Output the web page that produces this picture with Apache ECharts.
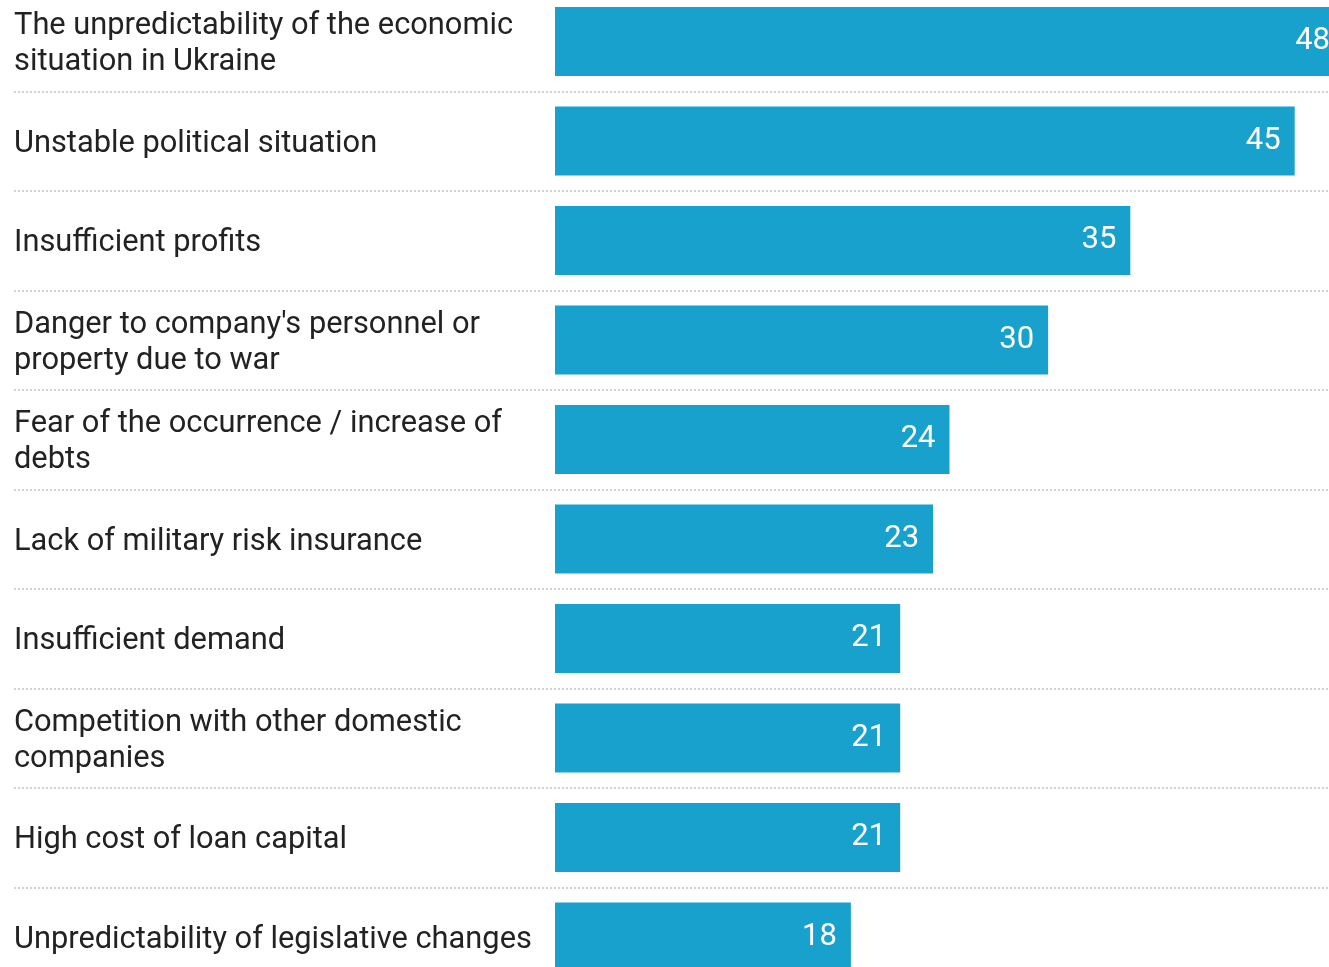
<!DOCTYPE html>
<html>
<head>
<meta charset="utf-8">
<script src="https://cdn.jsdelivr.net/npm/echarts@6/dist/echarts.min.js"></script>
<style>
  html, body { margin: 0; padding: 0; background: #ffffff; }
  #chart { width: 1329px; height: 967px; }
</style>
</head>
<body>
<div id="chart"></div>
<script>
// Obstacles to doing business, share of respondents (%)
const categories = [
  "The unpredictability of the economic situation in Ukraine",
  "Unstable political situation",
  "Insufficient profits",
  "Danger to company's personnel or property due to war",
  "Fear of the occurrence / increase of debts",
  "Lack of military risk insurance",
  "Insufficient demand",
  "Competition with other domestic companies",
  "High cost of loan capital",
  "Unpredictability of legislative changes"
];
const values = [48, 45, 35, 30, 24, 23, 21, 21, 21, 18];

const BAR_COLOR = '#19a1cd';
const TEXT_COLOR = '#222222';
const FONT = 'Roboto';

const chart = echarts.init(document.getElementById('chart'), null, { renderer: 'canvas' });

chart.setOption({
  backgroundColor: '#ffffff',
  animation: false,
  grid: [
    // full-width grid carrying the dotted row separators
    { left: 14, right: 0, top: -8.25, bottom: -19.75, containLabel: false, outerBoundsMode: 'none' },
    // bar area (extends past the right edge so the longest bar is cut)
    { left: 555, right: -15, top: -8.25, bottom: -19.75, containLabel: false, outerBoundsMode: 'none' },
    // category text column, sitting a few pixels lower than the bars
    { left: 555, right: -15, top: -5.25, bottom: -22.75, containLabel: false, outerBoundsMode: 'none' }
  ],
  xAxis: [
    { gridIndex: 0, type: 'value', min: 0, max: 1, show: false },
    { gridIndex: 1, type: 'value', min: 0, max: 48, show: false },
    { gridIndex: 2, type: 'value', min: 0, max: 48, show: false }
  ],
  yAxis: [
    {
      gridIndex: 0,
      type: 'category',
      inverse: true,
      data: categories,
      axisLine: { show: false },
      axisTick: { show: false },
      axisLabel: { show: false },
      splitLine: {
        show: true,
        lineStyle: { color: '#c4c4c4', width: 1.5, type: [2, 2] }
      }
    },
    {
      gridIndex: 1,
      type: 'category',
      inverse: true,
      data: categories,
      axisLine: { show: false },
      axisTick: { show: false },
      splitLine: { show: false },
      axisLabel: { show: false }
    },
    {
      gridIndex: 2,
      type: 'category',
      inverse: true,
      data: categories,
      axisLine: { show: false },
      axisTick: { show: false },
      splitLine: { show: false },
      axisLabel: {
        show: true,
        align: 'left',
        margin: 541,
        width: 530,
        overflow: 'break',
        color: TEXT_COLOR,
        fontFamily: FONT,
        fontSize: 30.8,
        lineHeight: 36
      }
    }
  ],
  series: [
    {
      type: 'bar',
      xAxisIndex: 1,
      yAxisIndex: 1,
      data: values,
      barWidth: 69,
      clip: false,
      itemStyle: { color: BAR_COLOR },
      label: {
        show: true,
        position: 'insideRight',
        distance: 14,
        color: '#ffffff',
        fontFamily: FONT,
        fontSize: 31
      }
    }
  ]
});
</script>
</body>
</html>
